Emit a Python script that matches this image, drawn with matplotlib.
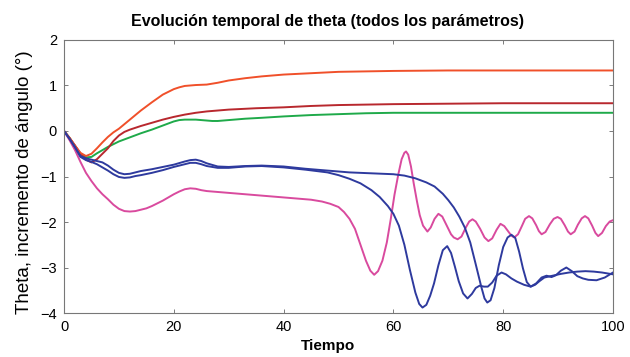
import numpy as np
import matplotlib
matplotlib.use("Agg")
import matplotlib.pyplot as plt

plt.rcParams['font.family'] = ['Liberation Sans', 'DejaVu Sans']

# theta traces, (time, angle in degrees)
t_naranja = [0, 1, 2, 3, 4, 5, 6, 7, 8, 9, 10, 12, 14, 16, 18, 20, 21, 22, 24, 26, 28, 30,
             33, 36, 40, 45, 50, 55, 60, 70, 80, 90, 100]
th_naranja = [0, -0.15, -0.32, -0.48, -0.55, -0.5, -0.38, -0.25, -0.13, -0.03, 0.05, 0.25,
              0.45, 0.63, 0.80, 0.92, 0.96, 0.99, 1.01, 1.02, 1.06, 1.11, 1.16, 1.20, 1.24,
              1.27, 1.30, 1.31, 1.32, 1.33, 1.33, 1.33, 1.33]

t_rojo = [0, 1, 2, 3, 4, 5, 6, 7, 8, 9, 10, 11, 12, 14, 16, 18, 20, 22, 24, 26, 28, 30,
          35, 40, 45, 50, 55, 60, 70, 80, 90, 100]
th_rojo = [0, -0.15, -0.32, -0.5, -0.63, -0.69, -0.62, -0.5, -0.38, -0.22, -0.1, -0.02,
           0.03, 0.11, 0.18, 0.25, 0.31, 0.36, 0.40, 0.43, 0.45, 0.47, 0.50, 0.52, 0.55,
           0.57, 0.58, 0.59, 0.60, 0.61, 0.61, 0.61]

t_verde = [0, 1, 2, 3, 4, 5, 6, 7, 8, 9, 10, 12, 14, 16, 18, 20, 21, 22, 24, 26, 27, 28,
           30, 33, 36, 40, 45, 50, 55, 60, 70, 80, 90, 100]
th_verde = [0, -0.15, -0.33, -0.5, -0.58, -0.57, -0.49, -0.42, -0.35, -0.29, -0.23, -0.14,
            -0.05, 0.03, 0.12, 0.21, 0.24, 0.25, 0.25, 0.23, 0.22, 0.22, 0.24, 0.27, 0.29,
            0.32, 0.35, 0.37, 0.39, 0.40, 0.40, 0.40, 0.40, 0.40]

t_azul1 = [0, 1, 2, 3, 4, 5, 6, 7, 8, 9, 10, 11, 12, 13, 14, 16, 18, 20, 22, 23, 24, 25,
           26, 28, 30, 33, 36, 40, 44, 48, 50, 52, 54, 56, 57.5, 59, 60, 61, 62, 63, 64,
           64.7, 65.3, 66.0, 66.7, 67.4, 68.2, 69.0, 69.8, 70.5, 71.2, 71.9, 72.7, 73.5,
           74.3, 75.0, 75.7, 76.5, 77.2, 78.0, 78.8, 79.7, 80.5, 81.5, 82.5, 83.8, 85.0,
           86.0, 87.0, 87.9, 88.8, 89.6, 90.5, 91.5, 92.5, 93.5, 94.5, 95.5, 97.0, 98.5, 100]
th_azul1 = [0, -0.17, -0.36, -0.57, -0.64, -0.68, -0.73, -0.80, -0.87, -0.95, -1.01, -1.03,
            -1.02, -0.99, -0.97, -0.92, -0.86, -0.79, -0.73, -0.70, -0.70, -0.73, -0.77,
            -0.81, -0.81, -0.78, -0.77, -0.80, -0.85, -0.91, -0.97, -1.05, -1.15, -1.30,
            -1.45, -1.65, -1.82, -2.08, -2.5, -3.05, -3.55, -3.80, -3.88, -3.82, -3.62,
            -3.35, -2.95, -2.62, -2.53, -2.68, -2.98, -3.3, -3.57, -3.68, -3.58, -3.45,
            -3.40, -3.42, -3.42, -3.33, -3.18, -3.11, -3.15, -3.24, -3.31, -3.38, -3.42,
            -3.35, -3.22, -3.18, -3.21, -3.17, -3.07, -3.00, -3.08, -3.19, -3.24, -3.27,
            -3.28, -3.22, -3.11]

t_azul2 = [0, 1, 2, 3, 4, 5, 6, 7, 8, 9, 10, 11, 12, 13, 14, 16, 18, 20, 22, 23, 24, 25,
           26, 28, 30, 33, 36, 40, 44, 48, 52, 56, 60, 62, 64, 66, 67.5, 69, 70, 71, 72,
           73, 74, 75, 76, 76.6, 77.1, 77.7, 78.4, 79.2, 80.0, 80.8, 81.5, 82.2, 82.9,
           83.6, 84.3, 85.0, 85.8, 86.6, 87.5, 89.0, 90.5, 92.0, 93.5, 95.0, 96.5, 98.0, 100]
th_azul2 = [0, -0.17, -0.35, -0.55, -0.6, -0.63, -0.66, -0.69, -0.76, -0.85, -0.92, -0.95,
            -0.94, -0.91, -0.88, -0.84, -0.79, -0.74, -0.67, -0.64, -0.63, -0.66, -0.71,
            -0.78, -0.79, -0.77, -0.76, -0.78, -0.83, -0.87, -0.91, -0.93, -0.95, -0.98,
            -1.04, -1.13, -1.22, -1.38, -1.52, -1.68, -1.88, -2.12, -2.45, -2.93, -3.42,
            -3.68, -3.77, -3.72, -3.45, -2.95, -2.55, -2.34, -2.28, -2.35, -2.65, -3.02,
            -3.32, -3.42, -3.38, -3.30, -3.22, -3.18, -3.14, -3.11, -3.09, -3.08, -3.09,
            -3.11, -3.15]

t_rosa = [0, 1, 2, 3, 4, 5, 6, 7, 8, 9, 10, 11, 12, 13, 14, 15, 16, 17, 18, 19, 20, 21,
          22, 23, 24, 25, 26, 28, 30, 33, 36, 39, 42, 45, 47, 48.5, 50, 51, 52, 53, 54, 55,
          55.8, 56.5, 57.2, 58, 58.8, 59.5, 60.2, 60.9, 61.5, 62.0, 62.3, 62.7, 63.2, 63.7,
          64.3, 64.8, 65.4, 66.2, 66.8, 67.5, 68.2, 68.9, 69.6, 70.5, 71.0, 71.7, 72.4,
          73.2, 73.8, 74.4, 75.0, 75.8, 76.6, 77.3, 78.0, 78.8, 79.5, 80.2, 81.0, 81.5,
          82.0, 82.7, 83.4, 84.0, 84.7, 85.3, 86.0, 86.5, 87.0, 87.7, 88.5, 89.2, 89.9,
          90.5, 91.2, 91.8, 92.3, 93.0, 93.6, 94.3, 94.9, 95.5, 96.2, 96.8, 97.3, 98.0,
          98.7, 99.4, 100]
th_rosa = [0, -0.2, -0.42, -0.68, -0.92, -1.1, -1.26, -1.39, -1.5, -1.62, -1.71, -1.76,
           -1.77, -1.76, -1.73, -1.70, -1.65, -1.59, -1.53, -1.46, -1.39, -1.33, -1.28,
           -1.26, -1.27, -1.30, -1.32, -1.34, -1.36, -1.39, -1.42, -1.45, -1.48, -1.51,
           -1.55, -1.60, -1.67, -1.78, -1.93, -2.15, -2.5, -2.85, -3.07, -3.16, -3.08,
           -2.85, -2.45, -1.95, -1.4, -0.95, -0.62, -0.48, -0.45, -0.52, -0.78, -1.15,
           -1.55, -1.85, -2.08, -2.21, -2.12, -1.93, -1.82, -1.88, -2.05, -2.27, -2.34,
           -2.38, -2.32, -2.12, -1.99, -1.94, -1.99, -2.15, -2.34, -2.42, -2.36, -2.17,
           -2.04, -2.09, -2.22, -2.30, -2.34, -2.27, -2.09, -1.93, -1.87, -1.92, -2.07,
           -2.20, -2.27, -2.22, -2.05, -1.93, -1.89, -1.93, -2.07, -2.21, -2.27, -2.21,
           -2.06, -1.92, -1.87, -1.92, -2.08, -2.24, -2.31, -2.24, -2.09, -1.99, -1.96]

fig = plt.figure(figsize=(6.3, 3.57), dpi=100)
ax = fig.add_axes([0.1016, 0.1232, 0.8714, 0.7648])

lw = 1.4
ax.plot(t_verde, th_verde, color='#1FAA4A', lw=lw)
ax.plot(t_rojo, th_rojo, color='#B8282E', lw=lw)
ax.plot(t_naranja, th_naranja, color='#F0502A', lw=lw)
ax.plot(t_rosa, th_rosa, color='#D94A9E', lw=lw)
ax.plot(t_azul1, th_azul1, color='#2E3A9E', lw=lw)
ax.plot(t_azul2, th_azul2, color='#2E3A9E', lw=lw)

ax.set_xlim(0, 100)
ax.set_ylim(-4, 2)
ax.set_xticks(np.arange(0, 101, 20))
ax.set_yticks(np.arange(-4, 3, 1))
ax.tick_params(direction='in', top=True, right=True, length=3, width=0.6,
               color='#666666', labelsize=10.5)
ax.tick_params(axis='x', pad=5)
ax.tick_params(axis='y', pad=5)
for s in ax.spines.values():
    s.set_color('#777777')
    s.set_linewidth(0.8)

ax.set_title('Evolución temporal de theta (todos los parámetros)',
             fontsize=11.5, fontweight='bold', pad=10, x=0.48)
ax.set_xlabel('Tiempo', fontsize=11, fontweight='bold')
ax.xaxis.set_label_coords(0.48, -0.095)
ax.set_ylabel('Theta, incremento de ángulo (°)', fontsize=13.5)
ax.yaxis.set_label_coords(-0.057, 0.48)

fig.savefig('out.png', dpi=100)
